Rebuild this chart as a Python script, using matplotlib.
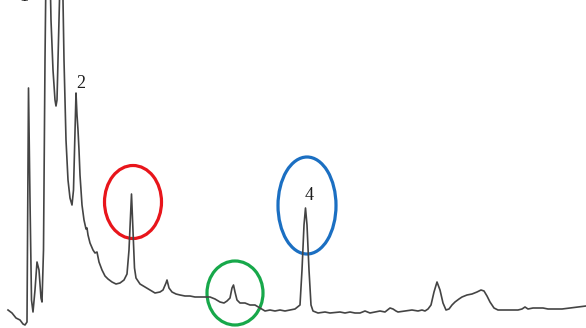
import matplotlib.pyplot as plt
from matplotlib.patches import Ellipse

# trace (pixel coords, y down)
trace_x = [8, 12, 16, 20, 23, 25, 27, 28.5, 30, 31.5, 33, 35, 37, 39, 41, 42, 43.5, 45, 46, 48, 50, 51,
           53, 55, 56, 57, 58, 59, 60.5, 62, 63, 64, 66, 68, 70, 72, 73.5, 75, 76, 77, 78, 79, 80, 82,
           84, 86, 87, 88, 90, 93, 95, 97, 99, 102, 105, 108, 112, 116, 120, 124, 127, 129, 131.5, 133,
           134.5, 136, 140, 145, 150, 155, 160, 163, 166, 167, 169, 172, 176, 180, 185, 190, 195, 200,
           205, 210, 215, 220, 224, 227, 230, 232, 233.5, 235, 237, 240, 245, 250, 255, 260, 265, 270,
           275, 280, 285, 290, 295, 300, 302, 304, 305.5, 307, 309, 311, 313, 318, 325, 330, 340, 345,
           350, 355, 360, 365, 370, 375, 380, 385, 390, 393, 396, 398, 405, 412, 418, 422, 425, 428,
           431, 434, 437, 440, 443, 446, 449, 452, 455, 459, 462, 467, 472, 477, 481, 484, 487, 490,
           494, 498, 505, 512, 518, 522, 525, 528, 533, 538, 543, 548, 555, 562, 570, 578, 586]
trace_y = [310, 313, 318, 320, 324, 325, 322, 88, 200, 300, 312, 290, 262, 270, 298, 302, 250, 60, -30,
           -60, -30, 20, 70, 100, 106, 100, 60, 20, -40, -40, 0, 60, 140, 180, 198, 205, 190, 130, 93,
           115, 130, 150, 175, 205, 220, 229, 228, 235, 243, 250, 253, 252, 262, 270, 276, 279, 282,
           284, 283, 280, 274, 250, 194, 230, 268, 278, 284, 287, 290, 293, 292, 290, 283, 280, 288,
           292, 294, 295, 296, 296, 297, 297, 297, 297, 299, 302, 303, 301, 298, 288, 285, 292, 300,
           303, 303, 305, 305, 308, 311, 310, 311, 310, 311, 310, 309, 305, 270, 225, 208, 225, 270,
           305, 311, 313, 312, 313, 312, 313, 312, 313, 313, 311, 313, 312, 311, 312, 308, 309, 311,
           312, 311, 310, 311, 310, 311, 309, 305, 292, 282, 290, 303, 310, 309, 305, 302, 299, 297,
           295, 294, 292, 290, 291, 296, 302, 308, 310, 310, 310, 310, 309, 307, 309, 308, 308, 308,
           309, 309, 309, 308, 307, 306]

# peak labels (the "1" is cut off by the top edge in the original)
labels = ['1', '2', '4']
label_x = [23.5, 81, 309]
label_y = [1, 88.5, 200.5]

# highlight circles: centre x, centre y, width, height, colour
circ_x = [133, 235, 307]
circ_y = [202, 293, 205.5]
circ_w = [57, 56, 58]
circ_h = [73, 64, 97]
circ_c = ['#e8151b', '#17a84a', '#1b6fc2']

fig = plt.figure(figsize=(5.86, 3.28), dpi=100)
ax = fig.add_axes([0, 0, 1, 1])
ax.set_xlim(0, 586)
ax.set_ylim(328, 0)
ax.axis('off')

ax.plot(trace_x, trace_y, color='#444444', lw=1.2, solid_joinstyle='round')

for t, x, y in zip(labels, label_x, label_y):
    ax.text(x, y, t, ha='center', va='baseline', fontsize=13,
            family='Liberation Serif', color='#1e1e1e')

for x, y, w, h, c in zip(circ_x, circ_y, circ_w, circ_h, circ_c):
    ax.add_patch(Ellipse((x, y), w, h, fill=False, ec=c, lw=2.3))

fig.savefig('out.png', dpi=100)
